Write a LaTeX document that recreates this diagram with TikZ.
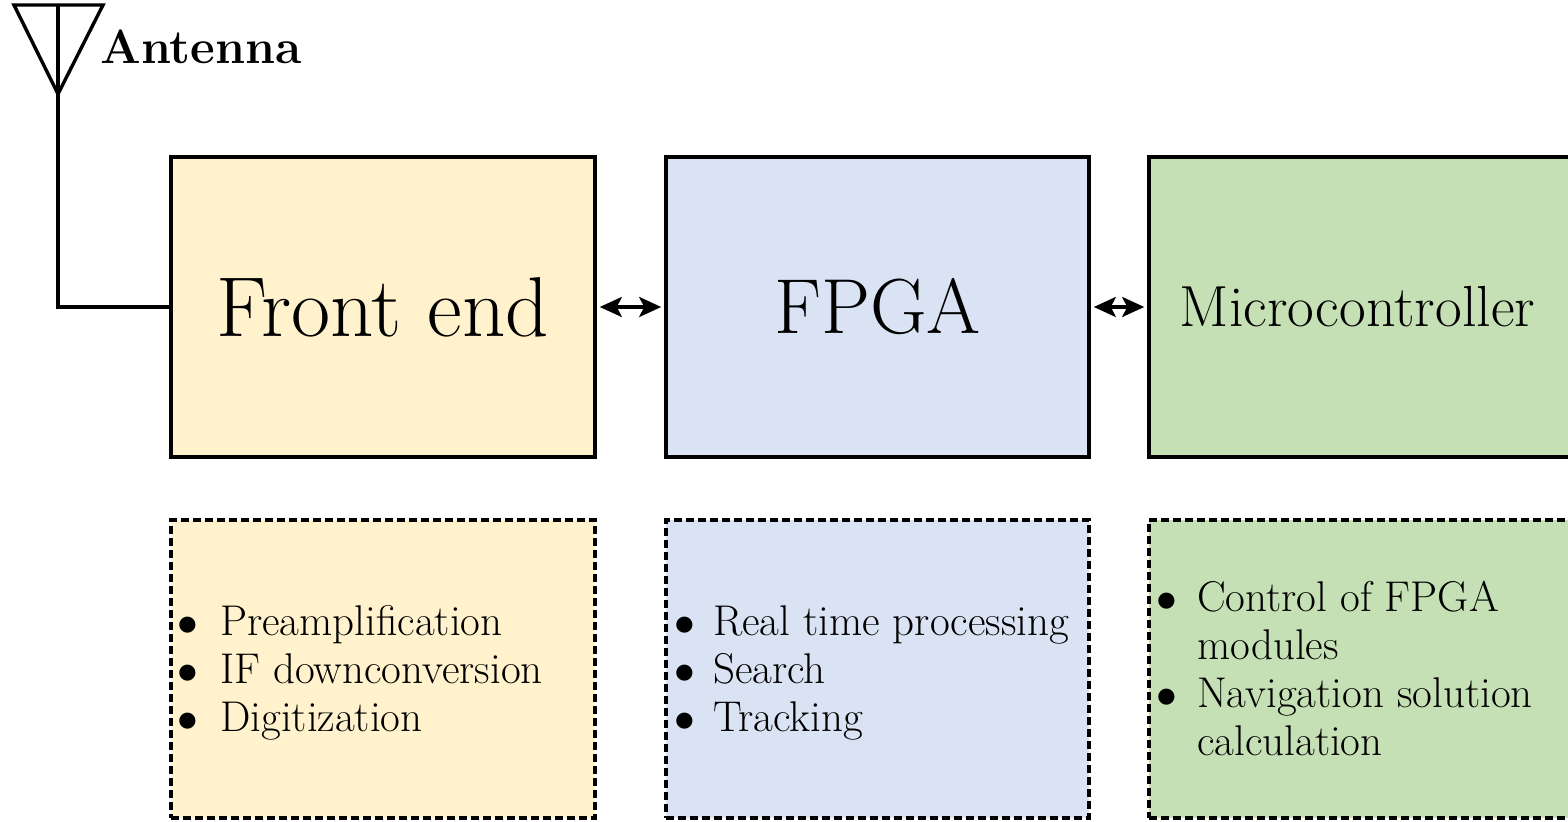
\documentclass[tikz,border=0pt]{standalone}
\usetikzlibrary{arrows.meta}
\definecolor{feFill}{HTML}{FFF2CC}
\definecolor{fpgaFill}{HTML}{DAE3F3}
\definecolor{mcuFill}{HTML}{C5E0B4}
\begin{document}
\begin{tikzpicture}[x=0.5pt,y=-0.5pt,
  block/.style={draw=black,line width=1.8pt,minimum height=150pt,inner sep=0pt},
  notes/.style={draw=black,line width=1.6pt,dash pattern=on 4pt off 2pt,minimum height=149pt,inner sep=0pt},
  listtext/.style={font=\fontsize{21.5}{24}\selectfont,anchor=west,inner sep=0pt,align=left},
  link/.style={{Stealth[length=11pt,width=10pt,inset=2.5pt]}-{Stealth[length=11pt,width=10pt,inset=2.5pt]},line width=1.6pt,shorten <=1.5pt,shorten >=1.5pt},
  wire/.style={line width=1.7pt}]
\useasboundingbox (0,0) rectangle (1568,822);
\fill[white] (0,0) rectangle (1568,822);

% main blocks
\node[block,fill=feFill,minimum width=212pt,font=\fontsize{42.5}{46}\selectfont] (fe) at (383,307) {Front end};
\node[block,fill=fpgaFill,minimum width=211.5pt,font=\fontsize{39}{44}\selectfont] (fpga) at (877.5,307) {FPGA};
\node[block,fill=mcuFill,minimum width=215.5pt,font=\fontsize{29}{32}\selectfont] (mcu) at (1364.5,307) {\hspace*{-7pt}Microcontroller};

% task boxes
\node[notes,fill=feFill,minimum width=212pt] (feN) at (383,669) {};
\node[notes,fill=fpgaFill,minimum width=211.5pt] (fpgaN) at (877.5,669) {};
\node[notes,fill=mcuFill,minimum width=215.5pt] (mcuN) at (1364.5,669) {};

\node[listtext] (feL) at (177,674) {\begin{tabular}{@{}l@{\hspace{11pt}}l@{}}
$\bullet$ & Preamplification\\
$\bullet$ & IF downconversion\\
$\bullet$ & Digitization
\end{tabular}};
\node[listtext] (fpgaL) at (674,674) {\begin{tabular}{@{}l@{\hspace{9pt}}l@{}}
$\bullet$ & Real time processing\\
$\bullet$ & Search\\
$\bullet$ & Tracking
\end{tabular}};
\node[listtext] (mcuL) at (1156,674) {\begin{tabular}{@{}l@{\hspace{10pt}}l@{}}
$\bullet$ & Control of FPGA\\
 & modules\\
$\bullet$ & Navigation solution\\
 & calculation
\end{tabular}};

% links between blocks
\draw[link] (fe.east) -- (fpga.west);
\draw[link] (fpga.west -| fpga.east) -- (mcu.west);

% antenna symbol
\coordinate (antL) at (14,5);
\coordinate (antR) at (103,5);
\coordinate (antTip) at (58,94);
\coordinate (antTop) at (58,5);
\draw[wire,line join=miter] (antL) -- (antR) -- (antTip) -- cycle;
\draw[wire] (antTop) |- (fe.west);
\node[anchor=base west,inner sep=0pt,font=\fontsize{24}{28}\selectfont\bfseries] (antLabel) at (100,64) {Antenna};
\end{tikzpicture}
\end{document}
